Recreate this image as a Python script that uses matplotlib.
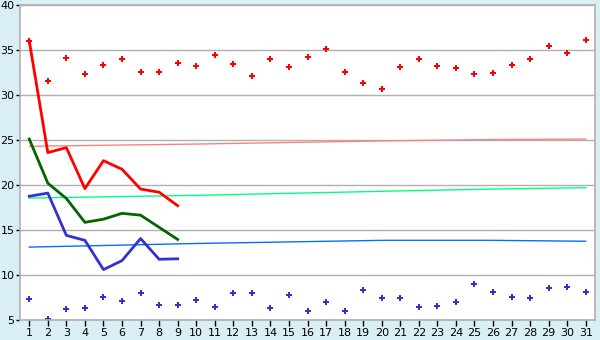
import numpy as np
import matplotlib.pyplot as plt

# days of the month
days = list(range(1, 32))

# daily scatter series
high_points = [36.0, 31.6, 34.1, 32.3, 33.3, 34.0, 32.6, 32.6, 33.6, 33.2,
               34.4, 33.4, 32.1, 34.0, 33.1, 34.2, 35.1, 32.6, 31.3, 30.7,
               33.1, 34.0, 33.2, 33.0, 32.3, 32.5, 33.3, 34.0, 35.4, 34.7,
               36.1]
low_points = [7.3, 5.1, 6.2, 6.3, 7.6, 7.1, 8.0, 6.7, 6.7, 7.2,
              6.5, 8.0, 8.0, 6.3, 7.8, 6.0, 7.0, 6.0, 8.3, 7.5,
              7.5, 6.4, 6.6, 7.0, 9.0, 8.1, 7.6, 7.5, 8.6, 8.7,
              8.1]

# first nine days, line series
line_days = list(range(1, 10))
red_line = [36.0, 23.6, 24.15, 19.6, 22.7, 21.75, 19.55, 19.2, 17.7]
green_line = [25.1, 20.2, 18.5, 15.85, 16.2, 16.85, 16.65, 15.3, 13.95]
blue_line = [18.75, 19.1, 14.4, 13.85, 10.6, 11.6, 14.05, 11.75, 11.8]

# slowly rising reference lines
ref_days = [1, 10, 20, 26, 31]
pink_ref = [24.3, 24.55, 24.9, 25.05, 25.1]
green_ref = [18.55, 18.85, 19.3, 19.55, 19.7]
blue_ref = [13.1, 13.5, 13.85, 13.85, 13.75]

bg = "#d9eff5"
grid_col = "#b0b0b0"

fig = plt.figure(figsize=(6, 3.4), dpi=100, facecolor=bg)
ax = fig.add_axes([20 / 600, 20 / 340, 575 / 600, 315 / 340])
ax.set_facecolor("white")

ax.set_xlim(0.5, 31.5)
ax.set_ylim(5, 40)
ax.set_yticks(range(5, 41, 5))
ax.set_xticks(days)
ax.yaxis.grid(True, color=grid_col, linewidth=1)
ax.set_axisbelow(True)

for side in ["left", "right", "top", "bottom"]:
    ax.spines[side].set_color(grid_col)
    ax.spines[side].set_linewidth(1.2)

ax.tick_params(axis="both", colors="black", labelsize=8, length=3, width=1,
               pad=1)
ax.tick_params(axis="x", length=4, pad=2)

ax.plot(ref_days, pink_ref, color="#ff8080", linewidth=1)
ax.plot(ref_days, green_ref, color="#00ff80", linewidth=1)
ax.plot(ref_days, blue_ref, color="#0070ff", linewidth=1)

ax.plot(line_days, red_line, color="#ff0000", linewidth=2)
ax.plot(line_days, green_line, color="#006600", linewidth=2)
ax.plot(line_days, blue_line, color="#3333cc", linewidth=2)

ax.plot(days, high_points, linestyle="none", marker="P", markersize=5,
        color="#ff0000", markeredgewidth=0)
ax.plot(days, low_points, linestyle="none", marker="P", markersize=5,
        color="#3333cc", markeredgewidth=0)

fig.savefig("out.png", dpi=100, facecolor=bg)
